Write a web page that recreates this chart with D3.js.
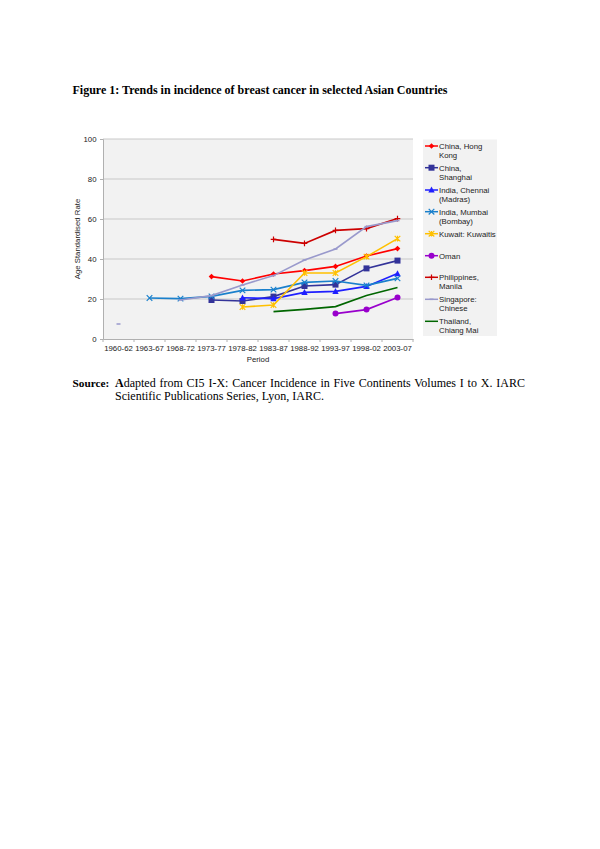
<!DOCTYPE html>
<html><head><meta charset="utf-8">
<script src="https://cdn.jsdelivr.net/npm/d3@7"></script>
<style>body{margin:0;background:#fff}svg{display:block}</style>
</head><body>
<script>
const categories = ["1960-62","1963-67","1968-72","1973-77","1978-82","1983-87","1988-92","1993-97","1998-02","2003-07"];
const yTicks = [0,20,40,60,80,100];
const hongKong   = [null,null,null,31.2,29.0,32.5,34.2,36.3,41.5,45.2];
const shanghai   = [null,null,null,19.5,19.0,21.2,26.5,27.2,35.3,39.2];
const chennai    = [null,null,null,null,20.6,20.2,23.3,23.8,26.3,32.7];
const mumbai     = [null,20.5,20.2,21.3,24.3,24.7,28.3,29.0,26.8,30.3];
const kuwait     = [null,null,null,null,16.0,17.0,33.0,33.0,41.2,50.2];
const oman       = [null,null,null,null,null,null,null,12.7,14.7,20.7];
const philippines= [null,null,null,null,null,49.8,47.8,54.3,55.2,60.2];
const singapore  = [7.5,null,19.5,21.7,27.0,31.7,39.5,45.0,56.2,59.2];
const thailand   = [null,null,null,null,null,13.7,14.8,16.2,21.7,25.7];

const series = [
  {name:["China, Hong","Kong"], values:hongKong, color:"#ff0000", marker:"diamond"},
  {name:["China,","Shanghai"], values:shanghai, color:"#333399", marker:"square"},
  {name:["India, Chennai","(Madras)"], values:chennai, color:"#1f1fff", marker:"triangle"},
  {name:["India, Mumbai","(Bombay)"], values:mumbai, color:"#1a80cc", marker:"x"},
  {name:["Kuwait: Kuwaitis"], values:kuwait, color:"#ffc000", marker:"star"},
  {name:["Oman"], values:oman, color:"#9900cc", marker:"circle"},
  {name:["Philippines,","Manila"], values:philippines, color:"#cc0000", marker:"plus"},
  {name:["Singapore:","Chinese"], values:singapore, color:"#9999cc", marker:"dash"},
  {name:["Thailand,","Chiang Mai"], values:thailand, color:"#006600", marker:"none"}
];

const W=600,H=849;
const svg=d3.select("body").append("svg").attr("width",W).attr("height",H);
const serif="'Liberation Serif','Times New Roman',serif";
const sans="'Liberation Sans',Arial,sans-serif";
const fs=7.8;

svg.append("text").attr("x",72.5).attr("y",93.5).attr("font-family",serif).attr("font-weight","bold")
  .attr("font-size",12).text("Figure 1: Trends in incidence of breast cancer in selected Asian Countries");

svg.append("text").attr("x",72.5).attr("y",386.5).attr("font-family",serif).attr("font-size",11.3)
  .attr("font-weight","bold").text("Source:");
const src1=svg.append("text").attr("x",115).attr("y",386.5).attr("font-family",serif).attr("font-size",12)
  .attr("word-spacing",0.8);
src1.append("tspan").attr("font-weight","bold").text("A");
src1.append("tspan").text("dapted from CI5 I-X: Cancer Incidence in Five Continents Volumes I to X. IARC");
svg.append("text").attr("x",115).attr("y",399.5).attr("font-family",serif).attr("font-size",12)
  .text("Scientific Publications Series, Lyon, IARC.");

const pLeft=103,pRight=413,pTop=139,pBottom=339;
const x=d3.scaleBand().domain(categories).range([pLeft,pRight]);
const y=d3.scaleLinear().domain([0,100]).range([pBottom,pTop]);

svg.append("rect").attr("x",pLeft).attr("y",pTop).attr("width",pRight-pLeft).attr("height",pBottom-pTop).attr("fill","#f2f2f2");
svg.append("g").selectAll("line").data(yTicks.filter(d=>d>0)).join("line")
  .attr("x1",pLeft).attr("x2",pRight).attr("y1",d=>y(d)).attr("y2",d=>y(d))
  .attr("stroke","#c8c8c8").attr("stroke-width",1);

const yAxis=svg.append("g").attr("transform",`translate(${pLeft},0)`)
  .call(d3.axisLeft(y).tickValues(yTicks).tickSize(3).tickPadding(3.5));
yAxis.select(".domain").attr("stroke","#b0b0b0");
yAxis.selectAll(".tick line").attr("stroke","#b0b0b0");
yAxis.selectAll("text").attr("font-family",sans).attr("font-size",fs).attr("fill","#222");

const xAxis=svg.append("g").attr("transform",`translate(0,${pBottom})`)
  .call(d3.axisBottom(x).tickSize(0).tickPadding(6));
xAxis.select(".domain").attr("stroke","#b0b0b0");
xAxis.selectAll("text").attr("font-family",sans).attr("font-size",fs).attr("fill","#222");
svg.append("g").selectAll("line").data(d3.range(categories.length+1)).join("line")
  .attr("x1",i=>pLeft+i*x.step()).attr("x2",i=>pLeft+i*x.step()).attr("y1",pBottom).attr("y2",pBottom+3)
  .attr("stroke","#b0b0b0");

svg.append("text").attr("x",258).attr("y",361.5).attr("text-anchor","middle").attr("font-family",sans)
  .attr("font-size",fs).attr("fill","#222").text("Period");
svg.append("text").attr("transform",`translate(80,${(pTop+pBottom)/2}) rotate(-90)`).attr("text-anchor","middle")
  .attr("font-family",sans).attr("font-size",fs).attr("fill","#222").text("Age Standardised Rate");

function drawMarker(g,type,cx,cy,color){
  const s=2.8;
  if(type==="diamond") g.append("path").attr("d",`M${cx},${cy-s}L${cx+s},${cy}L${cx},${cy+s}L${cx-s},${cy}Z`).attr("fill",color);
  else if(type==="square") g.append("rect").attr("x",cx-3).attr("y",cy-3).attr("width",6).attr("height",6).attr("fill",color);
  else if(type==="triangle") g.append("path").attr("d",`M${cx},${cy-3.4}L${cx+3.2},${cy+2.6}L${cx-3.2},${cy+2.6}Z`).attr("fill",color);
  else if(type==="circle") g.append("circle").attr("cx",cx).attr("cy",cy).attr("r",3).attr("fill",color);
  else if(type==="x") g.append("path").attr("d",`M${cx-s},${cy-s}L${cx+s},${cy+s}M${cx-s},${cy+s}L${cx+s},${cy-s}`).attr("stroke",color).attr("stroke-width",1.2);
  else if(type==="star") g.append("path").attr("d",`M${cx-s},${cy-s}L${cx+s},${cy+s}M${cx-s},${cy+s}L${cx+s},${cy-s}M${cx},${cy-s}L${cx},${cy+s}`).attr("stroke",color).attr("stroke-width",1.2);
  else if(type==="plus") g.append("path").attr("d",`M${cx-s},${cy}L${cx+s},${cy}M${cx},${cy-s}L${cx},${cy+s}`).attr("stroke",color).attr("stroke-width",1.2);
  else if(type==="dash") g.append("path").attr("d",`M${cx-2},${cy}L${cx+2},${cy}`).attr("stroke",color).attr("stroke-width",1.5);
}

const line=d3.line().defined(d=>d.v!=null).x(d=>x(d.c)+x.bandwidth()/2).y(d=>y(d.v));
const plot=svg.append("g");
series.forEach(s=>{
  const pts=categories.map((c,i)=>({c,v:s.values[i]}));
  plot.append("path").attr("d",line(pts)).attr("fill","none").attr("stroke",s.color).attr("stroke-width",1.6);
  const mg=plot.append("g");
  pts.filter(p=>p.v!=null).forEach(p=>drawMarker(mg,s.marker,x(p.c)+x.bandwidth()/2,y(p.v),s.color));
});

// legend
const lg=svg.append("g");
lg.append("rect").attr("x",423).attr("y",139.5).attr("width",74).attr("height",196.5).attr("fill","#f2f2f2");
const legY=[146,167.7,190,211.7,233.7,255.7,277.3,299.3,321.3];
series.forEach((s,i)=>{
  const cy=legY[i];
  lg.append("line").attr("x1",425).attr("x2",438).attr("y1",cy).attr("y2",cy).attr("stroke",s.color).attr("stroke-width",1.5);
  drawMarker(lg,s.marker,431.5,cy,s.color);
  s.name.forEach((t,j)=>lg.append("text").attr("x",439).attr("y",cy+2.8+j*9.3).attr("font-family",sans)
    .attr("font-size",fs).attr("fill","#222").text(t));
});
</script>
</body></html>
